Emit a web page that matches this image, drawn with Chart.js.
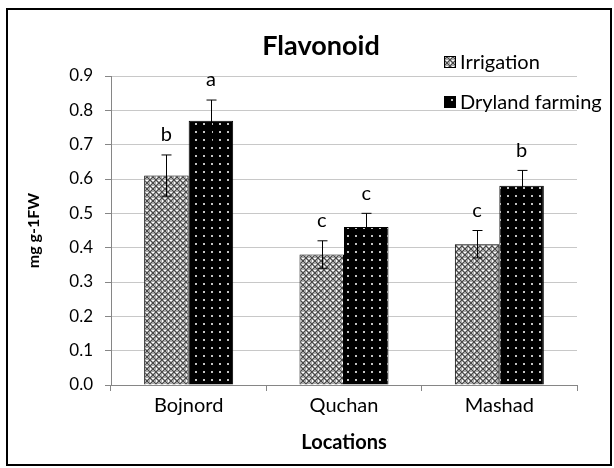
<!DOCTYPE html>
<html>
<head>
<meta charset="utf-8">
<script src="https://cdn.jsdelivr.net/npm/chart.js@4.4.1/dist/chart.umd.min.js"></script>
<style>
  html, body { margin: 0; padding: 0; background: #fff; }
  canvas { display: block; }
</style>
</head>
<body>
<canvas id="flavonoid-chart" width="614" height="468"></canvas>
<script>
const locations = ['Bojnord', 'Quchan', 'Mashad'];
const irrigation = [0.61, 0.38, 0.41];
const dryland = [0.77, 0.46, 0.58];
const irrigationErr = [0.06, 0.04, 0.04];
const drylandErr = [0.06, 0.04, 0.045];
const irrigationLetters = ['b', 'c', 'c'];
const drylandLetters = ['a', 'c', 'b'];
const yMax = 0.9;
const yStep = 0.1;

const FONT = 'Lato, "Open Sans", sans-serif';

// little tiles for the excel-like fill patterns
function makePattern(size, draw) {
  const tile = document.createElement('canvas');
  tile.width = tile.height = size;
  const g = tile.getContext('2d');
  draw(g, size);
  return tile.getContext('2d').createPattern(tile, 'repeat');
}

const checkPattern = makePattern(6, (g, s) => {
  g.fillStyle = '#a8a8a8';
  g.fillRect(0, 0, s, s);
  g.fillStyle = '#484848';
  for (let i = 0; i < s; i++) {
    g.fillRect(i, i, 1, 1);
    g.fillRect(s - 1 - i, i, 1, 1);
  }
  g.fillStyle = '#ffffff';
  g.fillRect(0, 2, 1, 2);
  g.fillRect(2, 0, 2, 1);
});

const dotPattern = makePattern(8, (g, s) => {
  g.fillStyle = '#000000';
  g.fillRect(0, 0, s, s);
  g.fillStyle = '#c4c4c4';
  g.fillRect(3, 3, 2, 2);
});

const errors = [irrigationErr, drylandErr];
const letters = [irrigationLetters, drylandLetters];

const extrasPlugin = {
  id: 'extras',
  afterDatasetsDraw(chart) {
    const ctx = chart.ctx;
    const y = chart.scales.y;
    ctx.save();
    chart.data.datasets.forEach((ds, di) => {
      const meta = chart.getDatasetMeta(di);
      meta.data.forEach((bar, i) => {
        const v = ds.data[i];
        const e = errors[di][i];
        const top = y.getPixelForValue(v + e);
        const bot = y.getPixelForValue(v - e);
        const x = Math.round(bar.x) + 0.5;
        ctx.strokeStyle = '#000';
        ctx.lineWidth = 1;
        ctx.beginPath();
        ctx.moveTo(x, top); ctx.lineTo(x, bot);
        ctx.moveTo(x - 5, top); ctx.lineTo(x + 5, top);
        ctx.moveTo(x - 5, bot); ctx.lineTo(x + 5, bot);
        ctx.stroke();
        ctx.fillStyle = '#000';
        ctx.font = '20px ' + FONT;
        ctx.textAlign = 'center';
        ctx.textBaseline = 'middle';
        ctx.fillText(letters[di][i], bar.x, top - 20);
      });
    });
    ctx.restore();
  },
  afterDraw(chart) {
    const ctx = chart.ctx;
    ctx.save();
    // title
    ctx.fillStyle = '#000';
    ctx.font = 'bold 27px ' + FONT;
    ctx.textAlign = 'center';
    ctx.textBaseline = 'middle';
    ctx.fillText('Flavonoid', 321, 46);
    // legend
    const items = [
      { label: chart.data.datasets[0].label, fill: checkPattern, y: 62 },
      { label: chart.data.datasets[1].label, fill: dotPattern, y: 102 }
    ];
    ctx.font = '20px ' + FONT;
    ctx.textAlign = 'left';
    items.forEach(it => {
      ctx.fillStyle = it.fill;
      ctx.fillRect(444, it.y - 6, 12, 12);
      ctx.strokeStyle = '#000';
      ctx.lineWidth = 1;
      ctx.strokeRect(444.5, it.y - 5.5, 11, 11);
      ctx.fillStyle = '#000';
      ctx.fillText(it.label, 460, it.y + 1);
    });
    // outer frame
    ctx.strokeStyle = '#000';
    ctx.lineWidth = 2;
    ctx.strokeRect(7, 9, 604, 456);
    ctx.restore();
  }
};

new Chart(document.getElementById('flavonoid-chart'), {
  type: 'bar',
  data: {
    labels: locations,
    datasets: [{
      label: 'Irrigation',
      data: irrigation,
      backgroundColor: checkPattern,
      borderColor: '#000',
      borderWidth: 1
    }, {
      label: 'Dryland farming',
      data: dryland,
      backgroundColor: dotPattern,
      borderColor: '#000',
      borderWidth: 1
    }]
  },
  options: {
    responsive: false,
    animation: false,
    events: [],
    layout: { padding: { left: 0, right: 37, top: 76, bottom: 8 } },
    datasets: { bar: { categoryPercentage: 0.573, barPercentage: 1 } },
    plugins: {
      legend: { display: false },
      title: { display: false },
      tooltip: { enabled: false }
    },
    scales: {
      x: {
        offset: true,
        grid: { offset: true, drawOnChartArea: false, tickLength: 6, tickColor: '#868686' },
        border: { color: '#868686' },
        ticks: { color: '#000', font: { family: FONT, size: 20 }, padding: 3 },
        title: { display: true, text: 'Locations', color: '#000', font: { family: FONT, size: 20, weight: 'bold' }, padding: { top: 4, bottom: 5 } },
        afterFit(scale) { scale.height = 468 - 385 - 8; }
      },
      y: {
        min: 0,
        max: yMax,
        ticks: {
          stepSize: yStep,
          color: '#000',
          font: { family: FONT, size: 17 },
          padding: 12,
          callback: v => Number(v).toFixed(1)
        },
        grid: { color: '#c8c8c8', tickLength: 6, tickColor: '#868686' },
        border: { color: '#868686' },
        title: { display: true, text: 'mg g-1FW', color: '#000', font: { family: FONT, size: 16, weight: 'bold' }, padding: { top: 24, bottom: 0 } },
        afterFit(scale) { scale.width = 111; }
      }
    }
  },
  plugins: [extrasPlugin]
});
</script>
</body>
</html>
